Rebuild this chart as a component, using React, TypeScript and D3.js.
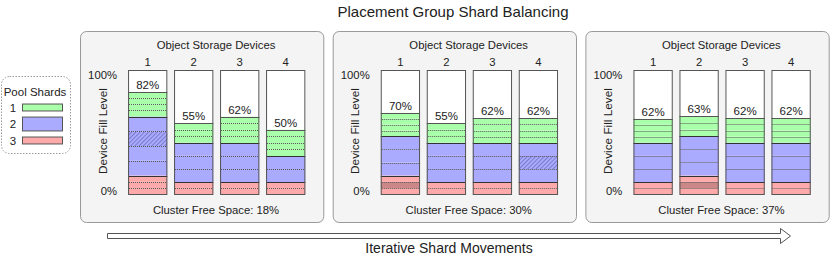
import React from 'react';
import * as d3 from 'd3';

// chart data
const devices = ['1', '2', '3', '4'];
const poolNames = ['1', '2', '3'];
const poolColors = ['#aaffaa', '#aaaaff', '#ffaaaa'];
const legendShardSize = [5.6, 11.2, 5.6];
const freeSpace = [18, 30, 37];
const fillLabels = [
  [82, 55, 62, 50],
  [70, 55, 62, 62],
  [62, 63, 62, 62],
];

// shards per device, bottom-up: [pool, size in %, mark]
const panel1Shards = [
  [[3, 5.1], [3, 5.1], [3, 5.1], [2, 11.9], [2, 11.9], [2, 11.9, 'hatch'], [2, 11.9], [1, 4.85], [1, 4.85], [1, 4.85], [1, 4.85]],
  [[3, 5], [3, 5], [2, 10.6], [2, 10.6], [2, 10.6], [1, 5.2], [1, 5.2], [1, 5.2]],
  [[3, 5], [3, 5], [2, 10.5], [2, 10.5], [2, 10.5], [1, 5.3], [1, 5.3], [1, 5.3], [1, 5.3]],
  [[3, 5], [3, 5], [2, 10.5], [2, 10.5], [1, 5.3], [1, 5.3], [1, 5.3], [1, 5.3]],
];
const panel2Shards = [
  [[3, 5.1], [3, 5.1, 'dark'], [3, 5.1], [2, 10.5], [2, 10.5], [2, 10.5], [1, 4.75], [1, 4.75], [1, 4.75], [1, 4.75]],
  [[3, 5], [3, 5], [2, 10.6], [2, 10.6], [2, 10.6], [1, 5.2], [1, 5.2], [1, 5.2]],
  [[3, 5], [3, 5], [2, 10.5], [2, 10.5], [2, 10.5], [1, 5], [1, 5], [1, 5], [1, 5]],
  [[3, 5], [3, 5], [2, 10.5], [2, 10.5, 'hatch'], [2, 10.5], [1, 5], [1, 5], [1, 5], [1, 5]],
];
const panel3Shards = [
  [[3, 5], [3, 5], [2, 10.6], [2, 10.6], [2, 10.6], [1, 4.8], [1, 4.8], [1, 4.8], [1, 4.8]],
  [[3, 5.1], [3, 5.1, 'dark'], [3, 5.1], [2, 10.6], [2, 10.6], [2, 10.6], [1, 5.3], [1, 5.3], [1, 5.3]],
  [[3, 5], [3, 5], [2, 10.6], [2, 10.6], [2, 10.6], [1, 4.9], [1, 4.9], [1, 4.9], [1, 4.9]],
  [[3, 5], [3, 5], [2, 10.6], [2, 10.6], [2, 10.6], [1, 4.9], [1, 4.9], [1, 4.9], [1, 4.9]],
];
const panels = [panel1Shards, panel2Shards, panel3Shards];

const W = 830;
const H = 259;
const FONT = '"Liberation Sans", Arial, sans-serif';
const TXT = '#222';

export default function App() {
  // shared fill scale for all panels
  const y = d3.scaleLinear().domain([0, 100]).range([194.5, 70.5]);
  const panelX = d3.scaleBand().domain(['0', '1', '2']).range([80, 828.7]).paddingInner(0.0372);
  const panelW = panelX.bandwidth();

  const renderBar = (shards, dev, x, bw, label) => {
    const top0 = d3.sum(shards, (s) => s[1]);
    let acc = 0;
    const segs = shards.map((s, i) => {
      const seg = { pool: s[0], y0: acc, y1: acc + s[1], mark: s[2], prev: i > 0 ? shards[i - 1][0] : null };
      acc += s[1];
      return seg;
    });
    return (
      <g key={dev}>
        <rect x={x} y={y(100)} width={bw} height={y(0) - y(100)} fill="#fff" />
        {segs.map((s, i) => (
          <g key={i}>
            <rect x={x} y={y(s.y1)} width={bw} height={y(s.y0) - y(s.y1)} fill={s.mark === 'dark' ? '#cc8888' : poolColors[s.pool - 1]} />
            {s.mark === 'hatch' && (
              <rect x={x} y={y(s.y1)} width={bw} height={y(s.y0) - y(s.y1)} fill="url(#hatch)" />
            )}
          </g>
        ))}
        {segs.map((s, i) =>
          i === 0 ? null : s.prev === s.pool ? (
            <line key={'l' + i} x1={x + 1} x2={x + bw - 1} y1={Math.round(y(s.y0)) + 0.5} y2={Math.round(y(s.y0)) + 0.5}
              stroke="#555" strokeWidth={1} strokeDasharray="1,1" />
          ) : (
            <line key={'l' + i} x1={x} x2={x + bw} y1={Math.round(y(s.y0)) + 0.5} y2={Math.round(y(s.y0)) + 0.5}
              stroke="#333" strokeWidth={1} />
          )
        )}
        <line x1={x} x2={x + bw} y1={Math.round(y(top0)) + 0.5} y2={Math.round(y(top0)) + 0.5} stroke="#555" />
        <rect x={x + 0.5} y={y(100)} width={bw - 1} height={y(0) - y(100)} fill="none" stroke="#555" strokeWidth={1} />
        <text x={x + bw / 2} y={y(top0) - 3} textAnchor="middle" fontSize={11.5} fill={TXT}>{label}%</text>
      </g>
    );
  };

  return (
    <svg width={W} height={H} style={{ position: 'absolute', left: 0, top: 0 }} fontFamily={FONT}>
      <defs>
        <pattern id="hatch" patternUnits="userSpaceOnUse" width={3} height={3} patternTransform="rotate(45)">
          <line x1={0} y1={0} x2={0} y2={3} stroke="#5a5aa8" strokeWidth={1.2} />
        </pattern>
      </defs>
      <rect width={W} height={H} fill="#fff" />
      <text x={453} y={17} textAnchor="middle" fontSize={15} fill={TXT}>Placement Group Shard Balancing</text>

      {/* legend */}
      <g>
        <rect x={1.5} y={76.5} width={69} height={77} rx={8} fill="#fff" stroke="#999" strokeDasharray="1.5,1.5" />
        <text x={35} y={96} textAnchor="middle" fontSize={11.5} fill={TXT}>Pool Shards</text>
        {poolNames.map((p, i) => {
          const cy = [107.5, 124, 140.5][i];
          const h = y(0) - y(legendShardSize[i]);
          return (
            <g key={p}>
              <text x={13} y={cy + 4} textAnchor="middle" fontSize={11.5} fill={TXT}>{p}</text>
              <rect x={22.5} y={cy - h / 2} width={40} height={h} fill={poolColors[i]} stroke="#555" />
            </g>
          );
        })}
      </g>

      {panels.map((bars, pi) => {
        const px = panelX(String(pi));
        const bx = d3.scaleBand().domain(devices).range([px + 44.7, px + 44.7 + 184]).paddingInner(0.146).paddingOuter(0.073);
        const cx = px + 136;
        return (
          <g key={pi}>
            <rect x={px + 0.5} y={31.5} width={panelW} height={191} rx={6} fill="#f4f4f4" stroke="#999" />
            <text x={cx} y={49} textAnchor="middle" fontSize={11.3} fill={TXT}>Object Storage Devices</text>
            {devices.map((d) => (
              <text key={d} x={bx(d) + bx.bandwidth() / 2} y={66} textAnchor="middle" fontSize={11.3} fill={TXT}>{d}</text>
            ))}
            <text x={px + 37} y={79} textAnchor="end" fontSize={11.3} fill={TXT}>100%</text>
            <text x={px + 37} y={195} textAnchor="end" fontSize={11.3} fill={TXT}>0%</text>
            <text transform={`translate(${px + 26.5},${131}) rotate(-90)`} textAnchor="middle" fontSize={11.8} fill={TXT}>Device Fill Level</text>
            {devices.map((d, di) => renderBar(bars[di], d, bx(d), bx.bandwidth(), fillLabels[pi][di]))}
            <text x={cx} y={214} textAnchor="middle" fontSize={11.3} fill={TXT}>Cluster Free Space: {freeSpace[pi]}%</text>
          </g>
        );
      })}

      {/* arrow */}
      <polygon points="107.5,233.5 780.5,233.5 780.5,228.5 790.5,236 780.5,243.5 780.5,238.5 107.5,238.5"
        fill="#fff" stroke="#555" strokeWidth={1} />
      <text x={449} y={253} textAnchor="middle" fontSize={14} fill={TXT}>Iterative Shard Movements</text>
    </svg>
  );
}
